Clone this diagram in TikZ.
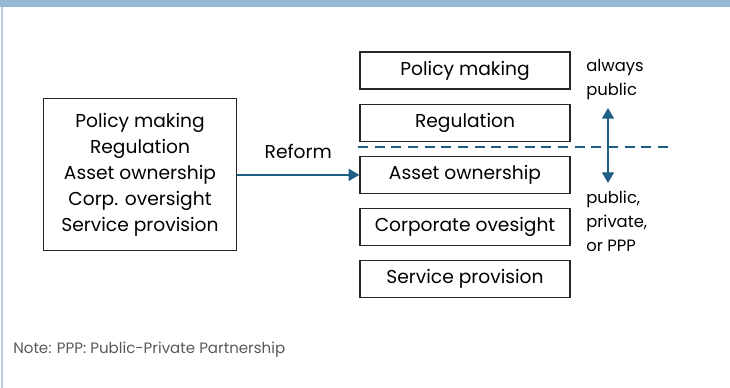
\documentclass[tikz,border=0pt]{standalone}
\usepackage{fontspec}
\setmainfont{Poppins}
\usetikzlibrary{positioning,arrows.meta}
\definecolor{bandblue}{HTML}{95B8D5}
\definecolor{flowblue}{HTML}{1F5F86}
\tikzset{
    rolebox/.style={
        rectangle,
        draw=black!85, % 黑色细边框
        line width=0.9pt,
        minimum width=157.5pt,
        minimum height=27.75pt,
        inner sep=0,
        font=\fontsize{14}{19.5}\selectfont
    },
    sidenote/.style={
        align=left,
        inner sep=0,
        font=\fontsize{12.3}{18}\selectfont
    },
    flow/.style={
        draw=flowblue,
        line width=1pt,
        -{Triangle[width=9pt,length=8pt]}
    }
}

\begin{document}
\begin{tikzpicture}[x=0.75pt,y=0.75pt,
                node distance=10.5pt]
    \useasboundingbox (0,0) rectangle (730,388);
    % 顶部色带和左侧细线
    \fill[bandblue] (0,381) rectangle (730,388);
    \draw[bandblue!70,line width=1.5pt] (2,0) -- (2,381);

    % 改革前：所有职能在一个框里
    \node[rolebox, minimum width=144.75pt, minimum height=114pt, align=center]
        (allroles) at (140,213.5) {Policy making\\Regulation\\Asset ownership\\Corp. oversight\\Service provision};

    % 改革后：分开的职能
    \node[rolebox] (policy) at (465,317.5) {Policy making};
    \node[rolebox, below=of policy] (regulation) {Regulation};
    \node[rolebox, below=of regulation] (asset) {Asset ownership};
    \node[rolebox, below=of asset] (oversight) {Corporate ovesight};
    \node[rolebox, below=of oversight] (service) {Service provision};

    \draw[flow] (allroles.east |- asset.west) -- node[above=8pt, black, font=\fontsize{14}{16}\selectfont] {Reform} (asset.west);

    % 公共 / 私营 分界线
    \coordinate (splitL) at (358,241);
    \coordinate (splitR) at (672,241);
    \draw[flowblue, line width=1pt, dash pattern=on 7.5pt off 5pt] (splitL) -- (splitR);

    \coordinate (upper) at (608,280);
    \coordinate (lower) at (608,205);
    \draw[flow, {Triangle[width=9pt,length=8pt]}-{Triangle[width=9pt,length=8pt]}] (upper) -- (lower);

    \node[sidenote, anchor=north west] (publicside) at (586,329) {always\\public};
    \node[sidenote, anchor=north west] (mixedside) at (586,197) {public,\\private,\\or PPP};

    \node[anchor=west, inner sep=0, text=black!65, font=\fontsize{11.3}{13}\selectfont] (note) at (13,38) {Note: PPP: Public-Private Partnership};
\end{tikzpicture}
\end{document}
